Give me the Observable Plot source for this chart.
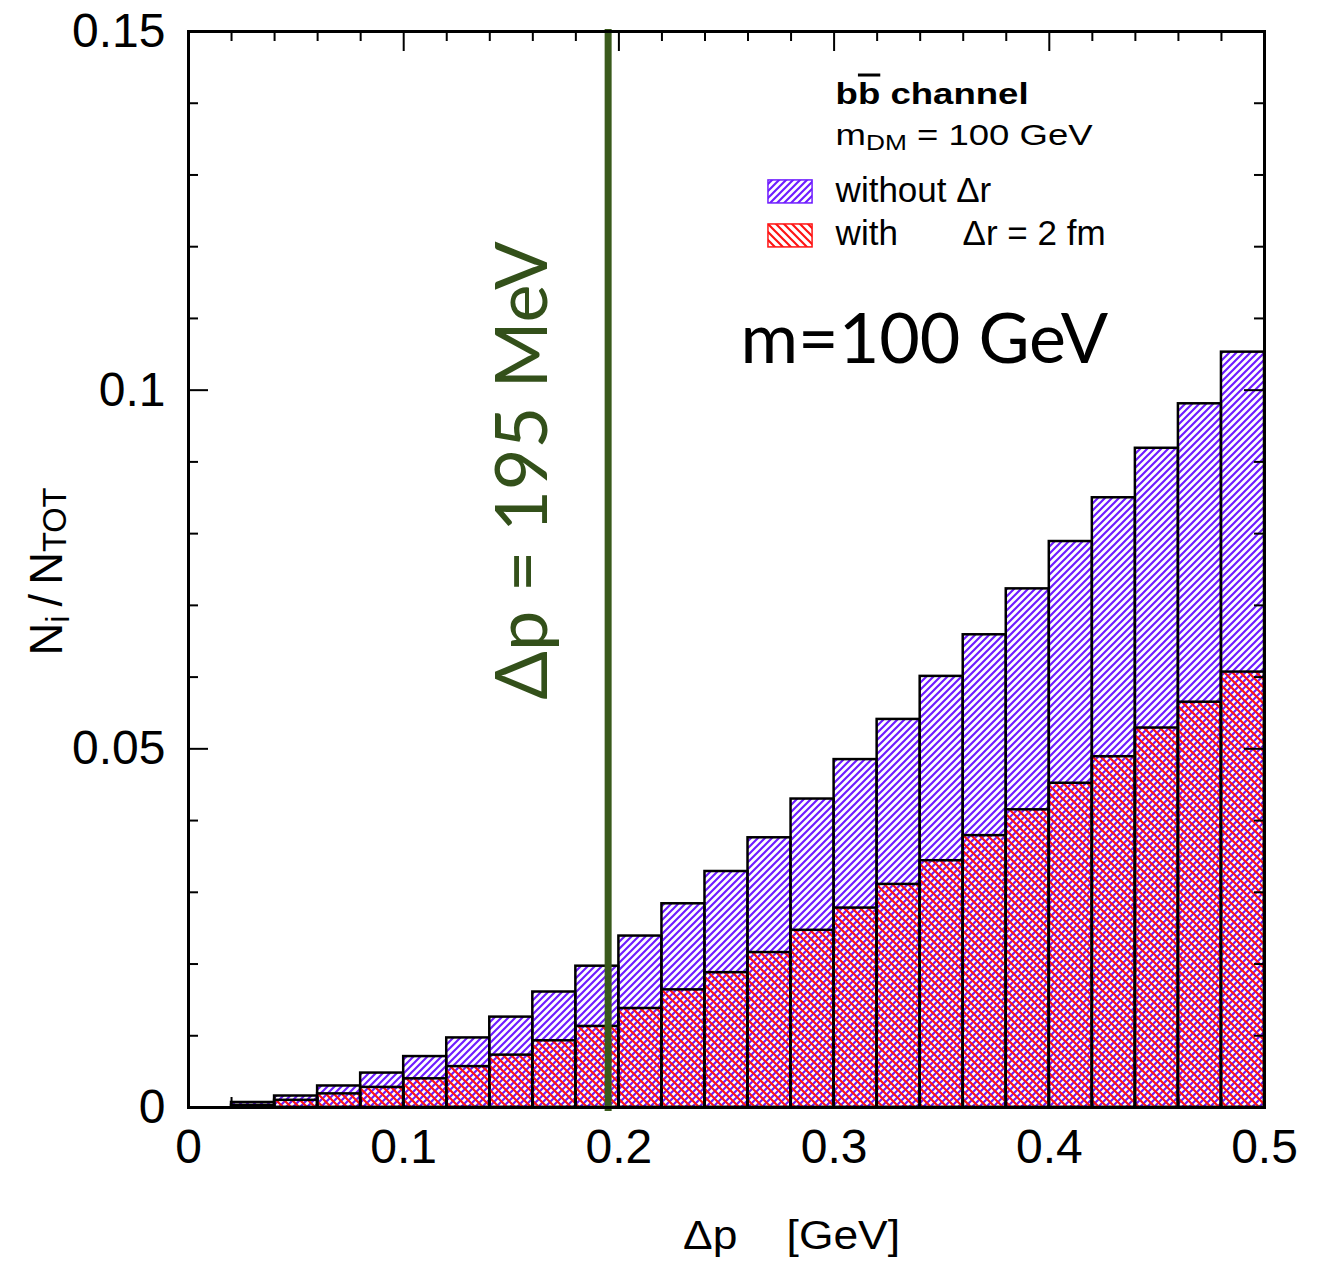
<!DOCTYPE html>
<html>
<head>
<meta charset="utf-8">
<script src="https://cdn.jsdelivr.net/npm/d3@7"></script>
<script src="https://cdn.jsdelivr.net/npm/@observablehq/plot@0.6"></script>
<style>
  body { margin: 0; background: #fff; }
  #chart svg { display: block; }
</style>
</head>
<body>
<div id="chart"></div>
<script>
// Histogram of Δp for the b b̄ channel (m_DM = 100 GeV), fraction of events per bin.
const binStart = [0.02, 0.04, 0.06, 0.08, 0.10, 0.12, 0.14, 0.16, 0.18, 0.20, 0.22, 0.24,
                  0.26, 0.28, 0.30, 0.32, 0.34, 0.36, 0.38, 0.40, 0.42, 0.44, 0.46, 0.48];
const binWidth = 0.02;
// without Δr
const withoutDr = [0.0007, 0.0016, 0.0030, 0.0048, 0.0071, 0.0097, 0.0126, 0.0161, 0.0197, 0.0239, 0.0284, 0.0329,
                   0.0376, 0.0430, 0.0485, 0.0541, 0.0601, 0.0659, 0.0723, 0.0789, 0.0850, 0.0919, 0.0981, 0.1053];
// with Δr = 2 fm
const withDr2fm = [0.0003, 0.0010, 0.0019, 0.0028, 0.0040, 0.0057, 0.0073, 0.0093, 0.0113, 0.0138, 0.0164, 0.0188,
                   0.0216, 0.0247, 0.0278, 0.0311, 0.0344, 0.0379, 0.0415, 0.0452, 0.0489, 0.0529, 0.0565, 0.0607];

const xMajorTicks = [0, 0.1, 0.2, 0.3, 0.4, 0.5];
const xMinorTicks = [0.02, 0.04, 0.06, 0.08, 0.12, 0.14, 0.16, 0.18, 0.22, 0.24, 0.26, 0.28,
                     0.32, 0.34, 0.36, 0.38, 0.42, 0.44, 0.46, 0.48];
const yMajorTicks = [0, 0.05, 0.1, 0.15];
const yMinorTicks = [0.01, 0.02, 0.03, 0.04, 0.06, 0.07, 0.08, 0.09, 0.11, 0.12, 0.13, 0.14];
const dpCut = 0.195; // Δp = 195 MeV

const bins = binStart.map((x0, i) => ({x1: x0, x2: x0 + binWidth, without: withoutDr[i], with: withDr2fm[i]}));

const W = 1328, H = 1262;
const mL = 188, mR = 64, mT = 31, mB = 155;
const innerW = W - mL - mR, innerH = H - mT - mB;
const minorLen = 10, majorLen = 20;

const purple = "#6f1dff";
const red = "#ff1414";
const green = "#3a5a1c";
const sans = "'Liberation Sans', Arial, Helvetica, sans-serif";
const humanist = "Lato, 'Open Sans', sans-serif";

const svg = Plot.plot({
  width: W, height: H,
  marginLeft: mL, marginRight: mR, marginTop: mT, marginBottom: mB,
  x: {domain: [0, 0.5]},
  y: {domain: [0, 0.15]},
  style: {fontFamily: sans, background: "#fff", color: "#000"},
  marks: [
    // histogram bars
    Plot.rectY(bins, {x1: "x1", x2: "x2", y: "without", fill: "url(#hatch-without)", stroke: "#000", strokeWidth: 2.5}),
    Plot.rectY(bins, {x1: "x1", x2: "x2", y: "with", fill: "url(#hatch-with)", stroke: "#000", strokeWidth: 2.5}),
    // cut line
    Plot.ruleX([dpCut], {stroke: green, strokeWidth: 7, insetTop: -2, insetBottom: -4}),
    // inward ticks on all four sides
    Plot.ruleX(xMinorTicks, {stroke: "#000", strokeWidth: 2, insetTop: innerH - minorLen}),
    Plot.ruleX(xMinorTicks, {stroke: "#000", strokeWidth: 2, insetBottom: innerH - minorLen}),
    Plot.ruleX(xMajorTicks, {stroke: "#000", strokeWidth: 2, insetTop: innerH - majorLen}),
    Plot.ruleX(xMajorTicks, {stroke: "#000", strokeWidth: 2, insetBottom: innerH - majorLen}),
    Plot.ruleY(yMinorTicks, {stroke: "#000", strokeWidth: 2, insetRight: innerW - minorLen}),
    Plot.ruleY(yMinorTicks, {stroke: "#000", strokeWidth: 2, insetLeft: innerW - minorLen}),
    Plot.ruleY(yMajorTicks, {stroke: "#000", strokeWidth: 2, insetRight: innerW - majorLen}),
    Plot.ruleY(yMajorTicks, {stroke: "#000", strokeWidth: 2, insetLeft: innerW - majorLen}),
    Plot.frame({stroke: "#000", strokeWidth: 3}),
    // tick labels
    Plot.axisX({ticks: xMajorTicks, tickSize: 0, tickPadding: 21, fontSize: 48, tickFormat: d => String(d), label: null}),
    Plot.axisY({ticks: yMajorTicks, tickSize: 0, tickPadding: 23, fontSize: 48, tickFormat: d => String(d), label: null}),
    // axis titles
    Plot.text(["Ni/NTOT"], {frameAnchor: "left", dx: -141, dy: 86, rotate: -90, fontSize: 46, textAnchor: "start", lineAnchor: "middle"}),
    Plot.text(["Δp   [GeV]"], {frameAnchor: "bottom", dx: 65, dy: 129, fontSize: 40, lineAnchor: "middle"}),
    // annotations
    Plot.text(["Δp = 195 MeV"], {x: 0.1557, y: 0.0888, rotate: -90, fontSize: 72, fontFamily: humanist, fill: "#33501a", lineAnchor: "middle"}),
    Plot.text(["m=100 GeV"], {x: 0.2565, y: 0.1069, textAnchor: "start", fontSize: 70, fontFamily: humanist, lineAnchor: "middle"}),
    // legend
    Plot.text(["bb channel"], {x: 0.3007, y: 0.1413, textAnchor: "start", fontSize: 30, fontWeight: "bold", lineAnchor: "middle"}),
    Plot.text(["mDM = 100 GeV"], {x: 0.3007, y: 0.13545, textAnchor: "start", fontSize: 30, lineAnchor: "middle"}),
    Plot.rect([0], {x1: 0.2695, x2: 0.2900, y1: 0.12603, y2: 0.12924, fill: "url(#hatch-without)", stroke: purple, strokeWidth: 1.5}),
    Plot.text(["without Δr"], {x: 0.3007, y: 0.1278, textAnchor: "start", fontSize: 35, lineAnchor: "middle"}),
    Plot.rect([0], {x1: 0.2695, x2: 0.2900, y1: 0.11990, y2: 0.12310, fill: "url(#hatch-with)", stroke: red, strokeWidth: 1.5}),
    Plot.text(["with"], {x: 0.3007, y: 0.12178, textAnchor: "start", fontSize: 35, lineAnchor: "middle"}),
    Plot.text(["Δr = 2 fm"], {x: 0.3597, y: 0.12178, textAnchor: "start", fontSize: 35, lineAnchor: "middle"})
  ]
});

document.getElementById("chart").append(svg);

// hatch patterns: "/" for the distribution without Δr, "\" for Δr = 2 fm
const defs = d3.select(svg).insert("defs", ":first-child");
defs.append("pattern")
    .attr("id", "hatch-without").attr("patternUnits", "userSpaceOnUse")
    .attr("width", 7).attr("height", 7)
  .append("path")
    .attr("d", "M-1,1 L1,-1 M0,7 L7,0 M6,8 L8,6")
    .attr("stroke", purple).attr("stroke-width", 2.2).attr("fill", "none");
defs.append("pattern")
    .attr("id", "hatch-with").attr("patternUnits", "userSpaceOnUse")
    .attr("width", 8).attr("height", 8)
  .append("path")
    .attr("d", "M-1,7 L1,9 M0,0 L8,8 M7,-1 L9,1")
    .attr("stroke", red).attr("stroke-width", 2.2).attr("fill", "none");

// subscripts and overline
function richText(plain, parts, length) {
  d3.select(svg).selectAll("text")
    .filter(function() { return this.textContent === plain; })
    .each(function() {
      const t = d3.select(this);
      t.text(null);
      for (const p of parts) {
        const s = t.append("tspan").text(p.t);
        if (p.size) s.attr("font-size", p.size);
        if (p.shift) s.attr("baseline-shift", p.shift);
        if (p.over) s.style("text-decoration", "overline");
      }
      if (length) t.attr("textLength", length).attr("lengthAdjust", "spacingAndGlyphs");
    });
}
richText("Ni/NTOT", [
  {t: "N"}, {t: "i", size: "0.72em", shift: "-0.22em"}, {t: "\u2009/\u2009"},
  {t: "N"}, {t: "TOT", size: "0.72em", shift: "-0.12em"}
], 168);
richText("bb channel", [{t: "b"}, {t: "b", over: true}, {t: " channel"}], 193);
richText("mDM = 100 GeV", [{t: "m"}, {t: "DM", size: "0.72em", shift: "-0.25em"}, {t: " = 100 GeV"}], 257);
richText("Δp   [GeV]", [{t: "Δp"}, {t: "\u00a0\u00a0\u00a0\u00a0[GeV]"}], 217);
</script>
</body>
</html>
